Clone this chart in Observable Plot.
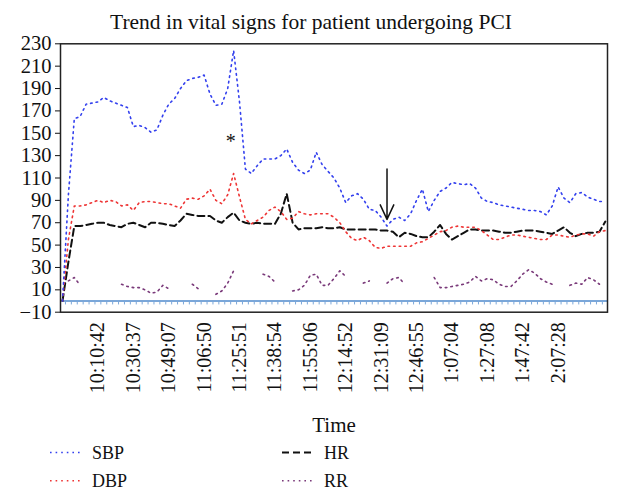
<!DOCTYPE html>
<html><head><meta charset="utf-8">
<script src="https://cdn.jsdelivr.net/npm/d3@7"></script>
<script src="https://cdn.jsdelivr.net/npm/@observablehq/plot@0.6"></script>
<style>
body{margin:0;background:#fff}
#wrap{position:relative;width:622px;height:499px;background:#fff;font-family:"Liberation Serif",serif;color:#111}
#title{position:absolute;left:0;top:10px;width:622px;text-align:center;font-size:21.5px;z-index:2}
#chart{position:absolute;left:0;top:30px;z-index:1}
#legend{position:absolute;left:0;top:440px}
</style></head><body>
<div id="wrap"><div id="chart"></div><div id="title">Trend in vital signs for patient undergoing PCI</div><svg id="legend" width="622" height="59"></svg></div>
<script>
const timeLabels = ["10:10:42","10:30:37","10:49:07","11:06:50","11:25:51","11:38:54","11:55:06","12:14:52","12:31:09","12:46:55","1:07:04","1:27:08","1:47:42","2:07:28"];
const labelIndex = [6,12,18,24,30,36,42,48,54,60,66,72,78,84];
const yTicks = [-10,10,30,50,70,90,110,130,150,170,190,210,230];

const sbp = [0,95,163,165,176,177,178,182,179,177,175,173,156,157,155,151,153,166,176,181,190,197,199,200,202,185,175,176,190,224,178,118,114,121,127,127,127,130,136,124,117,114,117,133,122,116,110,101,88,94,96,91,82,81,75,67,73,75,72,78,90,100,80,90,98,101,106,105,104,105,101,92,89,88,86,85,84,83,82,81,81,80,77,85,102,92,88,96,97,93,91,89,89];
const dbp = [0,55,85,85,86,88,90,88,90,89,85,86,81,88,89,89,88,87,87,85,83,91,92,91,94,100,90,87,95,114,93,73,69,72,75,81,84,80,73,74,80,78,77,78,78,78,75,70,62,56,54,57,54,48,47,49,49,49,49,49,52,53,56,59,62,63,66,67,66,66,66,63,59,55,55,57,59,59,58,57,56,55,55,59,59,58,57,59,60,60,58,62,63];
const hr = [0,35,67,67,68,69,70,70,68,67,66,69,70,68,66,70,70,69,68,67,72,78,77,76,76,76,72,70,75,79,72,70,69,70,69,69,69,78,96,70,64,65,65,65,66,65,65,66,64,64,64,64,64,64,63,63,62,57,61,60,58,57,57,62,68,60,55,58,61,64,64,63,63,63,62,61,61,62,63,63,63,62,61,60,63,66,61,58,60,61,61,62,71];
const rr = [null,18,21,14,null,null,null,null,null,null,15,13,12,12,10,7,8,14,11,null,null,null,15,11,null,null,6,9,16,27,null,null,null,null,24,22,17,null,null,9,10,14,23,24,14,14,20,27,22,null,null,16,18,null,null,16,20,21,15,null,null,null,null,21,12,12,13,14,15,17,22,18,20,19,15,13,13,18,24,28,25,20,17,15,null,null,14,16,15,21,19,15,null];

const seriesNames = ["SBP","DBP","HR","RR"];
const seriesColors = ["#3340ee","#ee3535","#111111","#7a3a7a"];
const starNote = [{label:"*", i:28.5, v:146}];
const arrowNote = [{i:55, from:118, to:73}];

const dotted = "1.6 4";
const dashed = "7 4";

const plot = Plot.plot({
  width: 622, height: 410,
  marginLeft: 60, marginRight: 15, marginTop: 13.3, marginBottom: 128.3,
  style: {fontFamily: "Liberation Serif", fontSize: "20px", color: "#111", background: "transparent", overflow: "visible"},
  x: {domain: [-0.34, 92.37]},
  y: {domain: [-10, 230]},
  marks: [
    Plot.ruleY([0], {stroke: "#7ba7d9", strokeWidth: 2}),
    Plot.ruleX(d3.range(sbp.length - 1), {x: d => d + 0.5, y1: 0, y2: -3.5, stroke: "#7ba7d9", strokeWidth: 1}),
    Plot.lineY(rr, {stroke: seriesColors[3], strokeWidth: 1.6, strokeDasharray: dotted}),
    Plot.lineY(hr, {stroke: seriesColors[2], strokeWidth: 2, strokeDasharray: dashed}),
    Plot.lineY(dbp, {stroke: seriesColors[1], strokeWidth: 1.6, strokeDasharray: dotted}),
    Plot.lineY(sbp, {stroke: seriesColors[0], strokeWidth: 1.6, strokeDasharray: dotted}),
    Plot.arrow(arrowNote, {x1: "i", x2: "i", y1: "from", y2: "to", stroke: "#111", strokeWidth: 1.5, headAngle: 50, headLength: 16}),
    Plot.text(starNote, {x: "i", y: "v", text: "label", fontSize: 20, dy: 4}),
    Plot.axisY({ticks: yTicks, tickSize: 5, tickPadding: 4, label: null, fontSize: 20.5}),
    Plot.axisX({ticks: labelIndex, tickFormat: d => timeLabels[labelIndex.indexOf(d)], tickRotate: -90, tickSize: 0, tickPadding: 10, label: null, fontSize: 20}),
    Plot.text(["Time"], {text: d => d, frameAnchor: "bottom", dy: 113, lineAnchor: "middle", fontSize: 21}),
    Plot.frame({stroke: "#222", strokeWidth: 1.5})
  ]
});
document.getElementById("chart").appendChild(plot);

// legend
const legendItems = seriesNames.map((name, k) => ({name, color: seriesColors[k], dash: name === "HR" ? dashed : dotted, width: name === "HR" ? 2 : 1.6, col: k < 2 ? 0 : 1, row: k % 2}));
const lg = d3.select("#legend");
const colX = [50, 282], rowY = [12.5, 40.7];
const g = lg.selectAll("g").data(legendItems).join("g")
  .attr("transform", d => `translate(${colX[d.col]},${rowY[d.row]})`);
g.append("line").attr("x1", 0).attr("x2", 32).attr("y1", 0).attr("y2", 0)
  .attr("stroke", d => d.color).attr("stroke-width", d => d.width).attr("stroke-dasharray", d => d.dash);
g.append("text").attr("x", 42).attr("y", 6).attr("font-family", "Liberation Serif").attr("font-size", 18).attr("fill", "#111").text(d => d.name);
</script>
</body></html>
